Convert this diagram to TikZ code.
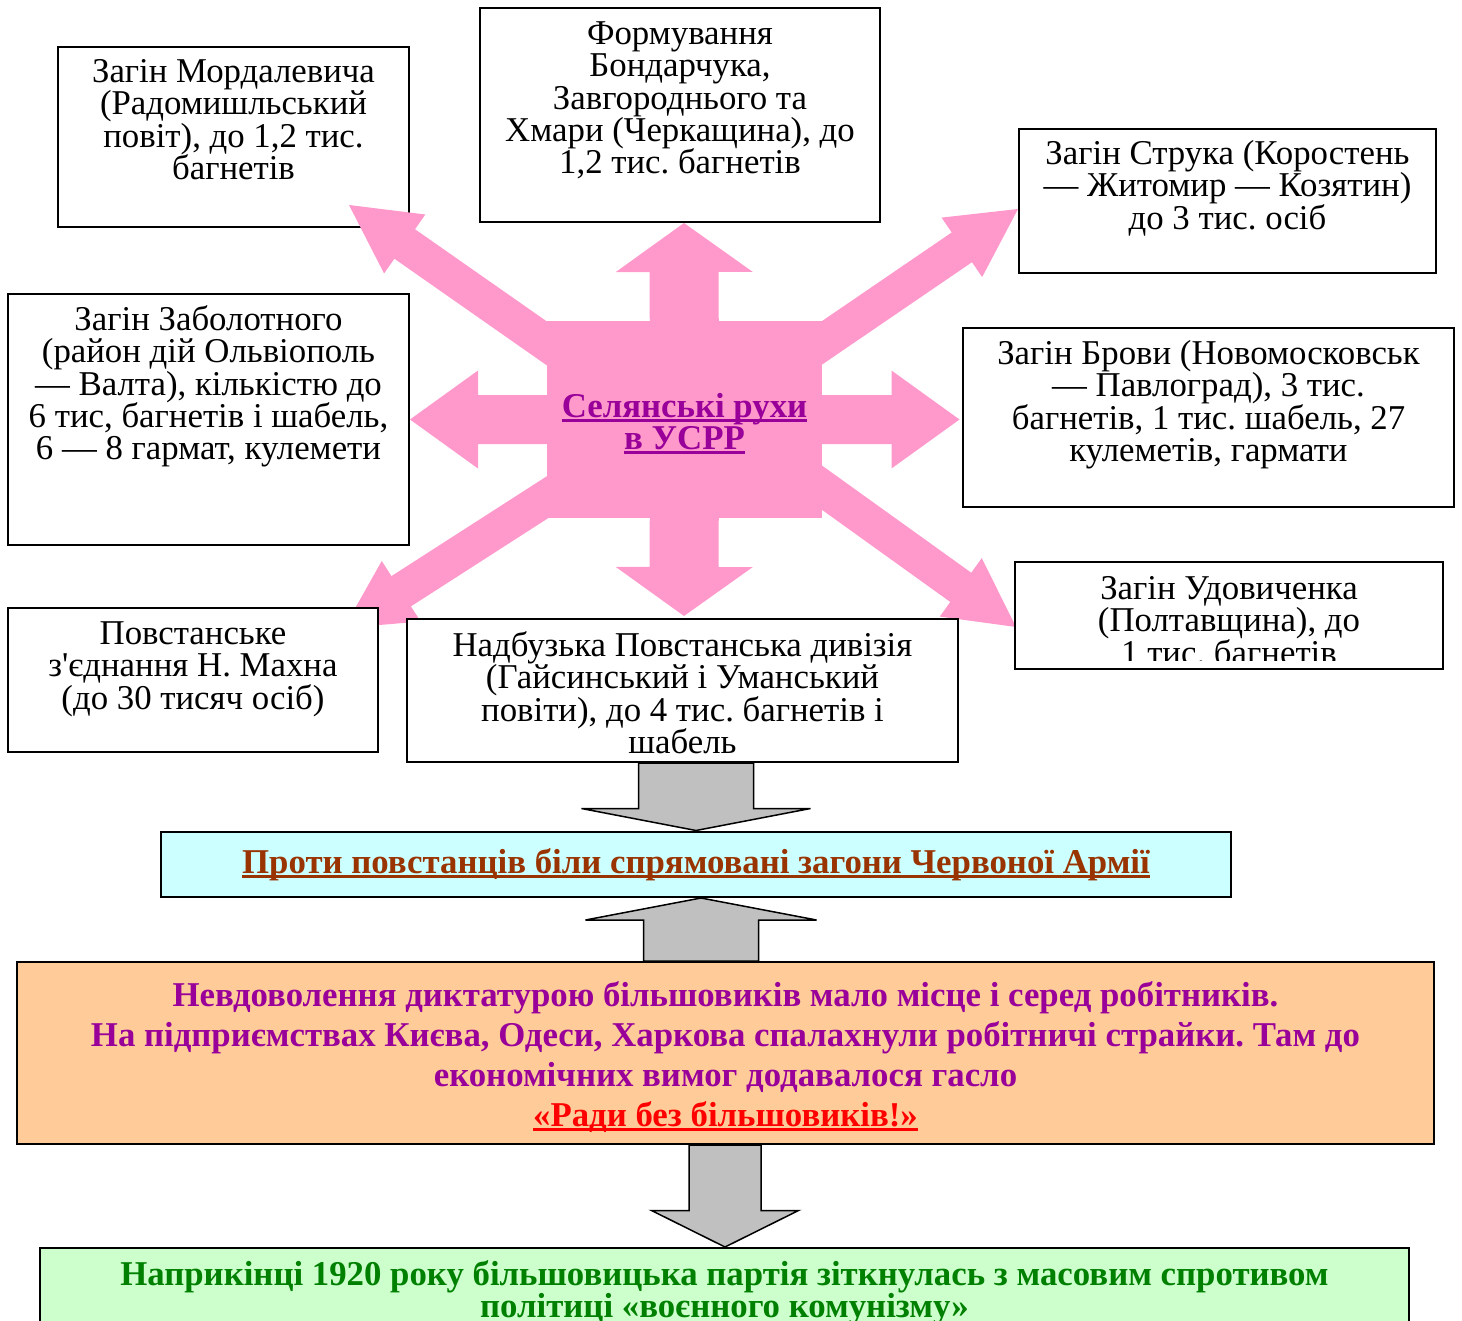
\documentclass[tikz,border=0pt]{standalone}
\usepackage{fontspec}
\setmainfont{Liberation Serif}
\usetikzlibrary{calc,fit,positioning}
\frenchspacing

\definecolor{rozhevyi}{HTML}{FF99CC}
\definecolor{fioletovyi}{HTML}{990099}
\definecolor{korychnevyi}{HTML}{993300}
\definecolor{blakytnyi}{HTML}{CCFFFF}
\definecolor{pomaranchevyi}{HTML}{FFCC99}
\definecolor{salatovyi}{HTML}{CCFFCC}
\definecolor{zelenyi}{HTML}{008000}
\definecolor{siryi}{HTML}{C0C0C0}

\newsavebox{\pidbox}
\newcommand{\pid}[1]{\sbox{\pidbox}{#1}\rlap{\usebox{\pidbox}}\rule[-2.5pt]{\wd\pidbox}{1.5pt}}
\newcommand{\zfont}{\fontsize{17.4}{16.2}\selectfont}
\newcommand{\fst}{\rule{0pt}{12pt}}
% fat arrow: style, from, to, half shaft, half head, head length
\newcommand{\fatarrow}[6]{%
  \coordinate (fab) at ($(#3)!#6!(#2)$);
  \path[#1] ($(#2)!#4!90:(#3)$) -- ($(fab)!#4!-90:(#2)$) -- ($(fab)!#5!-90:(#2)$)
    -- (#3) -- ($(fab)!#5!90:(#2)$) -- ($(fab)!#4!90:(#2)$) -- ($(#2)!#4!-90:(#3)$) -- cycle;}

\begin{document}
\begin{tikzpicture}[x=0.5pt,y=-0.5pt,
  zahin/.style={draw,line width=1pt,fill=white,inner sep=0pt},
  zahintext/.style={inner sep=0pt,align=center,font=\zfont},
  pinkarrow/.style={fill=rozhevyi},
  grayarrow/.style={fill=siryi,draw=black,line width=0.75pt}]
\useasboundingbox (0,0) rectangle (1462,1321);

\node[zahin,fit={(58,47) (409,227)}] (mord) {};
\node[zahintext,below=6pt of mord.north] (mordt) {\fst Загін Мордалевича\\(Радомишльський\\повіт), до 1,2 тис.\\багнетів};

\coordinate (c) at (684.5,419.5);
\coordinate (tN) at (684,223);
\coordinate (tS) at (684,616);
\coordinate (tW) at (410,419.5);
\coordinate (tE) at (959.5,419.5);
\coordinate (sNW) at (620,394.6);
\coordinate (sNE) at (750,392);
\coordinate (sSE) at (750,436);
\coordinate (sSW) at (620,450.6);
\coordinate (tNW) at (349,205);
\coordinate (tNE) at (1018,209);
\coordinate (tSE) at (1016,627);
\coordinate (tSW) at (344,628);
\fatarrow{pinkarrow}{c}{tN}{17.25pt}{34.25pt}{24.5pt}
\fatarrow{pinkarrow}{c}{tS}{17.25pt}{34.25pt}{24.5pt}
\fatarrow{pinkarrow}{c}{tW}{12.25pt}{24.5pt}{34pt}
\fatarrow{pinkarrow}{c}{tE}{12.25pt}{24.5pt}{34pt}
\foreach \d in {NW,NE,SE,SW}
  \fatarrow{pinkarrow}{s\d}{t\d}{9pt}{18pt}{34pt};
\node[fill=rozhevyi,inner sep=0pt,fit={(547,321) (822,518)}] (ctr) {};
\node[align=center,text=fioletovyi,font=\fontsize{17.4}{16}\bfseries] (ctrt) at ([yshift=-2pt]ctr.center) {\pid{Селянські рухи}\\\pid{в УСРР}};

\node[zahin,fit={(480,8) (880,222)}] (form) {};
\node[zahintext,below=6.5pt of form.north] (formt) {\fst Формування\\Бондарчука,\\Завгороднього та\\Хмари (Черкащина), до\\1,2 тис. багнетів};

\node[zahin,fit={(1019,129) (1436,273)}] (struk) {};
\node[zahintext,below=6pt of struk.north] (strukt) {\fst Загін Струка (Коростень\\— Житомир — Козятин)\\до 3 тис. осіб};

\node[zahin,fit={(963,328) (1454,507)}] (brov) {};
\node[zahintext,below=6.5pt of brov.north] (brovt) {\fst Загін Брови (Новомосковськ\\— Павлоград), 3 тис.\\багнетів, 1 тис. шабель, 27\\кулеметів, гармати};

\node[zahin,fit={(8,294) (409,545)}] (zab) {};
\node[zahintext,below=6pt of zab.north] (zabt) {\fst Загін Заболотного\\(район дій Ольвіополь\\— Валта), кількістю до\\6 тис, багнетів і шабель,\\6 — 8 гармат, кулемети};

\node[zahin,fit={(8,608) (378,752)}] (makh) {};
\node[zahintext,below=6.5pt of makh.north] (makht) {\fst Повстанське\\з\textquotesingle єднання Н. Махна\\(до 30 тисяч осіб)};

\node[zahin,fit={(407,619) (958,762)}] (nad) {};
\node[zahintext,below=6.5pt of nad.north] (nadt) {\fst Надбузька Повстанська дивізія\\(Гайсинський і Уманський\\повіти), до 4 тис. багнетів і\\шабель};

\node[zahin,fit={(1015,562) (1443,669)}] (udov) {};
\begin{scope}
\clip (1020,566) rectangle (1438,660);
\node[zahintext,below=7pt of udov.north] (udovt) {\fst Загін Удовиченка\\(Полтавщина), до\\1 тис. багнетів};
\end{scope}

\node[zahin,fill=blakytnyi,fit={(161,831.5) (1231,897)}] (proty) {};
\node[text=korychnevyi,font=\fontsize{17.4}{20}\bfseries] (protyt) at (proty) {\pid{Проти повстанців біли спрямовані загони Червоної Армії}};

\node[zahin,fill=pomaranchevyi,fit={(17,962) (1434,1144)}] (nevd) {};
\node[align=center,text=fioletovyi,font=\fontsize{17.4}{20}\bfseries] (nevdt) at ([yshift=-2pt]nevd.center) {Невдоволення диктатурою більшовиків мало місце і серед робітників.\\На підприємствах Києва, Одеси, Харкова спалахнули робітничі страйки. Там до\\економічних вимог додавалося гасло\\\textcolor{red}{\pid{«Ради без більшовиків!»}}};

\node[zahin,fill=salatovyi,fit={(40,1248) (1409,1400)}] (nakin) {};
\node[zahintext,text=zelenyi,font=\fontsize{17.4}{16}\bfseries,below=6.5pt of nakin.north] (nakint) {\fst Наприкінці 1920 року більшовицька партія зіткнулась з масовим спротивом\\політиці «воєнного комунізму»};

\coordinate (s1) at (nad.south -| 696,0);
\coordinate (e1) at (proty.north -| 696,0);
\coordinate (s2) at (nevd.north -| 701,0);
\coordinate (e2) at (proty.south -| 701,0);
\coordinate (s3) at (nevd.south -| 725,0);
\coordinate (e3) at (nakin.north -| 725,0);
\fatarrow{grayarrow}{s1}{e1}{28.75pt}{57.25pt}{11pt}
\fatarrow{grayarrow}{s2}{e2}{28.75pt}{57.75pt}{11pt}
\fatarrow{grayarrow}{s3}{e3}{18pt}{36.75pt}{18.25pt}
\end{tikzpicture}
\end{document}
